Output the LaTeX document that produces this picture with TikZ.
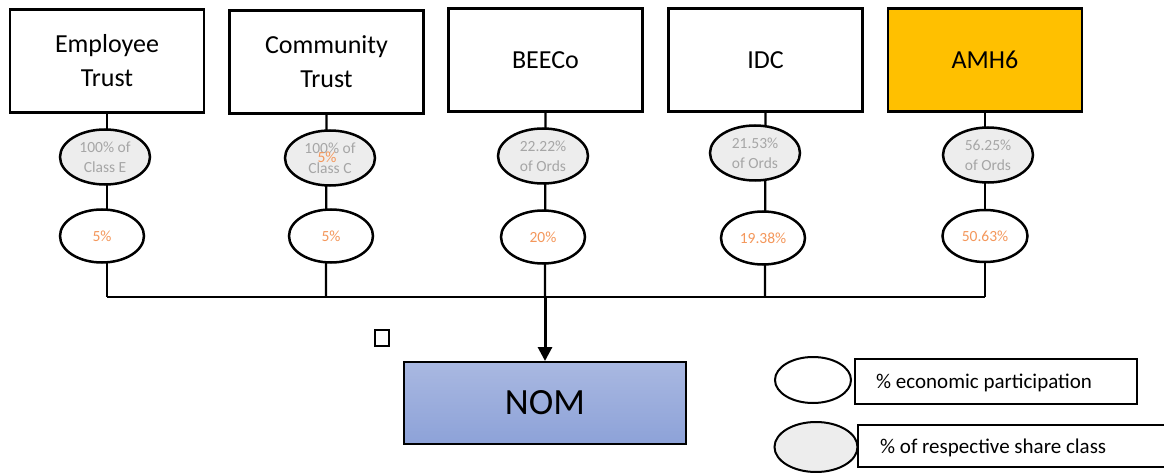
\documentclass[tikz,border=0pt]{standalone}
\usepackage{fontspec}
\setmainfont{Carlito}
\usetikzlibrary{arrows.meta,shapes.geometric}
\definecolor{amber}{HTML}{FFC000}
\definecolor{orng}{HTML}{F4975B}
\definecolor{gtext}{HTML}{A6A6A6}
\definecolor{gfill}{HTML}{EDEDED}
\definecolor{nomtop}{HTML}{A9B8E1}
\definecolor{nombot}{HTML}{8DA2D8}
\tikzset{
  entity/.style={draw=black, line width=2.5pt, minimum width=194pt, minimum height=103pt, inner sep=0pt, align=center, font=\fontsize{26}{34}\selectfont},
  classell/.style={draw=black, line width=2.5pt, ellipse, fill=gfill, minimum width=90pt, minimum height=55pt, inner sep=0pt, align=center, text=gtext, font=\fontsize{15.5}{20}\selectfont},
  econell/.style={draw=black, line width=2.5pt, ellipse, fill=white, minimum width=84pt, minimum height=53pt, inner sep=0pt, align=center, text=orng, font=\fontsize{15.5}{19}\selectfont},
  conn/.style={line width=2.2pt},
  legbox/.style={draw=black, line width=1.5pt, inner sep=0pt},
  legtext/.style={font=\fontsize{21}{25}\selectfont, anchor=west, inner sep=0pt}
}
\begin{document}
\begin{tikzpicture}[x=1pt, y=-1pt]
\useasboundingbox (0,0) rectangle (1164,473);
% entity boxes
\node[entity] (emp) at (107,61) {Employee\\Trust};
\node[entity] (com) at (326.5,62) {Community\\Trust};
\node[entity] (bee) at (545.5,60) {BEECo};
\node[entity] (idc) at (765.5,60) {IDC};
\node[entity, fill=amber] (amh) at (985,60) {AMH6};
% bus coordinates
\coordinate (b1) at (107,297);
\coordinate (b2) at (326,297);
\coordinate (b3) at (545,297);
\coordinate (b4) at (765,297);
\coordinate (b5) at (985,297);
% vertical connectors
\draw[conn] (emp.south) -- (b1);
\draw[conn] (com.south) -- (b2);
\draw[conn] (bee.south) -- (b3);
\draw[conn] (idc.south) -- (b4);
\draw[conn] (amh.south) -- (b5);
\draw[conn] (b1) -- (b5);
% class ellipses
\node[classell] (c1) at (105,157) {100\% of\\Class E};
\node[classell] (c2) at (330,158) {100\% of\\Class C};
\node[classell] (c3) at (543,156) {22.22\%\\of Ords};
\node[classell] (c4) at (755,153) {21.53\%\\of Ords};
\node[classell] (c5) at (988,155) {56.25\%\\of Ords};
\node[text=orng, font=\fontsize{15.5}{19}\selectfont, inner sep=0pt] (ov) at (327,157) {5\%};
% economic ellipses
\node[econell] (e1) at (102,236) {5\%};
\node[econell] (e2) at (331,236) {5\%};
\node[econell] (e3) at (543,237) {20\%};
\node[econell] (e4) at (763,238) {19.38\%};
\node[econell, minimum width=85pt, minimum height=52pt] (e5) at (985,236) {50.63\%};
% NOM box
\node[draw=black, line width=2pt, top color=nomtop, bottom color=nombot, minimum width=282pt, minimum height=82pt, inner sep=0pt, font=\fontsize{37}{44}\selectfont] (nom) at (545,403) {NOM};
\draw[line width=3pt, -{Triangle[length=14pt, width=14pt]}] (b3) -- (nom.north);
% small square
\node[draw=black, line width=2pt, minimum width=14pt, minimum height=16pt, inner sep=0pt] (sq) at (381.5,337.5) {};
% legend
\node[draw=black, line width=2pt, ellipse, fill=white, minimum width=76pt, minimum height=46pt, inner sep=0pt] (le1) at (813,380) {};
\node[legbox, minimum width=282pt, minimum height=45pt] (lb1) at (996,381.5) {};
\node[legtext] (lt1) at (876,383) {\% economic participation};
\node[draw=black, line width=2pt, ellipse, fill=gfill, minimum width=83pt, minimum height=50pt, inner sep=0pt] (le2) at (816,447) {};
\node[legbox, minimum width=317pt, minimum height=42pt] (lb2) at (1016.5,446) {};
\node[legtext] (lt2) at (880,448) {\% of respective share class};
\end{tikzpicture}
\end{document}
